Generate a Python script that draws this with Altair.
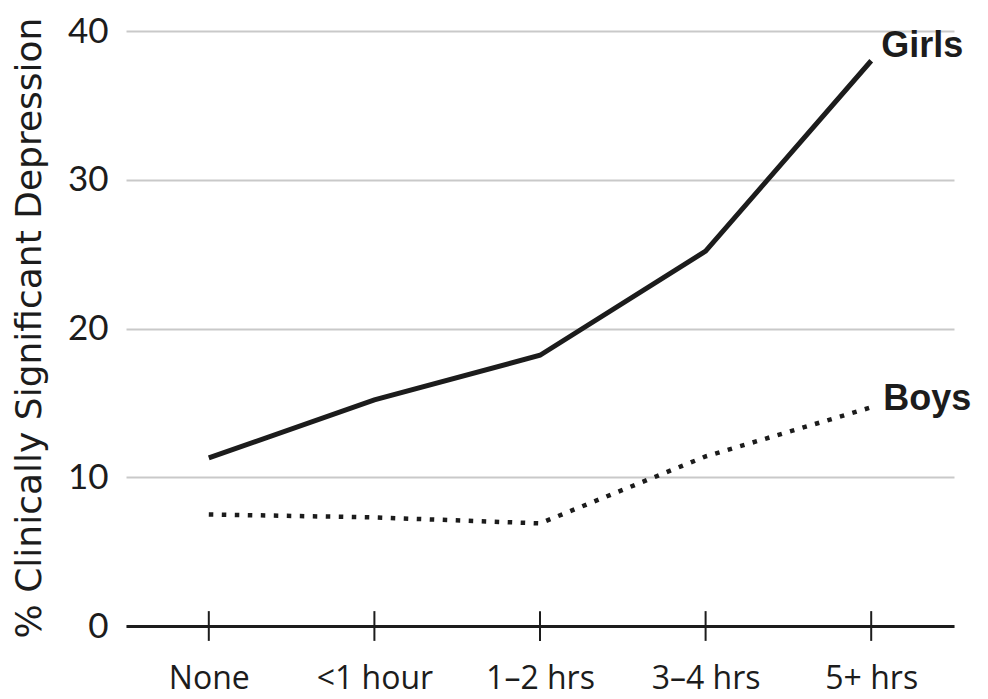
import altair as alt
import pandas as pd

categories = ["None", "<1 hour", "1–2 hrs", "3–4 hrs", "5+ hrs"]
girls = [11.3, 15.2, 18.2, 25.2, 38.0]
boys = [7.5, 7.3, 6.9, 11.4, 14.7]
y_ticks = [0, 10, 20, 30, 40]
series_names = ["Girls", "Boys"]

df = pd.DataFrame({
    "cat": categories * 2,
    "val": girls + boys,
    "series": [series_names[0]] * len(categories) + [series_names[1]] * len(categories),
})
df_girls = df[df.series == "Girls"]
df_boys = df[df.series == "Boys"]
df_ticks = pd.DataFrame({"cat": categories})

W, H = 828, 595
INK = "#1c1c1c"

x_enc = alt.X(
    "cat:N", sort=categories,
    scale=alt.Scale(type="point", padding=0.5),
    axis=alt.Axis(title=None, domain=True, domainColor=INK, domainWidth=3,
                  ticks=False, grid=False, labelAngle=0,
                  labelFont="Open Sans", labelFontSize=32, labelColor=INK,
                  labelPadding=37, labelBaseline="top"),
)
y_enc = alt.Y(
    "val:Q",
    scale=alt.Scale(domain=[0, 40], nice=False, zero=True),
    axis=alt.Axis(values=y_ticks, title="% Clinically Significant Depression",
                  domain=False, ticks=False, grid=True, gridColor="#c9c9c9",
                  gridWidth=2, labelFont="Lato", labelFontSize=35,
                  labelColor=INK, labelPadding=18, labelBaseline="middle",
                  titleFont="DejaVu Sans", titleFontSize=36, titleFontWeight="normal",
                  titleColor=INK, titleX=-97, titleY=H / 2 - 1, titleAngle=270,
                  titleAlign="center", titleBaseline="middle"),
)

girls_line = alt.Chart(df_girls).mark_line(
    color=INK, strokeWidth=5, strokeJoin="miter"
).encode(x=x_enc, y=y_enc)

boys_line = alt.Chart(df_boys).mark_line(
    color=INK, strokeWidth=4.5, strokeDash=[4.5, 8.5], strokeCap="butt"
).encode(x=alt.X("cat:N", sort=categories), y=alt.Y("val:Q"))

ticks = alt.Chart(df_ticks).mark_rule(color=INK, strokeWidth=2).encode(
    x=alt.X("cat:N", sort=categories), y=alt.datum(-1.0), y2=alt.datum(1.0)
)

girls_label = alt.Chart(df_girls.tail(1).assign(lbl="Girls")).mark_text(
    align="left", baseline="middle", dx=10, dy=-15, font="Liberation Sans",
    fontWeight="bold", fontSize=36, color=INK
).encode(x=alt.X("cat:N", sort=categories), y=alt.Y("val:Q"), text="lbl:N")

boys_label = alt.Chart(df_boys.tail(1).assign(lbl="Boys")).mark_text(
    align="left", baseline="middle", dx=12, dy=-8, font="Liberation Sans",
    fontWeight="bold", fontSize=36, color=INK
).encode(x=alt.X("cat:N", sort=categories), y=alt.Y("val:Q"), text="lbl:N")

chart = alt.layer(girls_line, boys_line, ticks, girls_label, boys_label).properties(
    width=W, height=H,
    background="white",
    autosize=alt.AutoSizeParams(type="none"),
    padding={"left": 118, "top": 23, "right": 26, "bottom": 72},
).configure_view(stroke=None)

chart.save("out.html", embed_options={"renderer": "svg", "actions": False})
